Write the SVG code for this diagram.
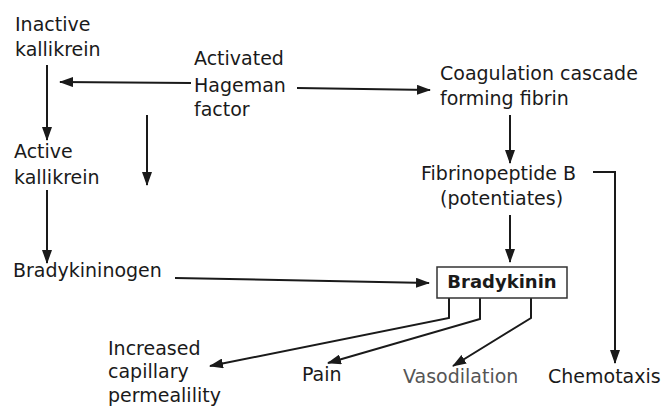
<svg xmlns="http://www.w3.org/2000/svg" width="665" height="409" viewBox="0 0 665 409">
<style>
text{font-family:"DejaVu Sans","Liberation Sans",sans-serif;font-size:19px;fill:#1a1a1a}
.b{font-weight:bold;font-size:18px}
.g{fill:#555}
.c{fill:none;stroke:#1a1a1a;stroke-width:2}
.box{fill:#fff;stroke:#333;stroke-width:1.5}
</style>
<defs>
<marker id="ah" markerUnits="userSpaceOnUse" markerWidth="14" markerHeight="10" refX="13" refY="5" orient="auto">
<path d="M0,0 L14,5 L0,10 Z" fill="#1a1a1a"/>
</marker>
</defs>
<g id="connectors">
<path class="c" d="M47,65 V140" marker-end="url(#ah)"/>
<path class="c" d="M47,190 V263" marker-end="url(#ah)"/>
<path class="c" d="M191,83 L60,82" marker-end="url(#ah)"/>
<path class="c" d="M297,88 L430,90" marker-end="url(#ah)"/>
<path class="c" d="M147,115 V185" marker-end="url(#ah)"/>
<path class="c" d="M510,115 V163" marker-end="url(#ah)"/>
<path class="c" d="M510,215 V262" marker-end="url(#ah)"/>
<path class="c" d="M175,278 L429,283" marker-end="url(#ah)"/>
<path class="c" d="M593,172 H615 V363" marker-end="url(#ah)"/>
<path class="c" d="M449,298 V318 L210,366" marker-end="url(#ah)"/>
<path class="c" d="M480,298 V319 L328,363" marker-end="url(#ah)"/>
<path class="c" d="M531,298 V318 L453,366" marker-end="url(#ah)"/>
</g>
<g id="inactive-kallikrein"><text x="15" y="31">Inactive</text><text x="15" y="56">kallikrein</text></g>
<g id="active-kallikrein"><text x="14" y="158">Active</text><text x="14" y="184">kallikrein</text></g>
<g id="bradykininogen"><text x="13" y="277">Bradykininogen</text></g>
<g id="hageman"><text x="194" y="65">Activated</text><text x="194" y="92">Hageman</text><text x="194" y="116">factor</text></g>
<g id="coagulation"><text x="440" y="80">Coagulation cascade</text><text x="440" y="105">forming fibrin</text></g>
<g id="fibrinopeptide"><text x="421" y="180">Fibrinopeptide B</text><text x="440" y="205">(potentiates)</text></g>
<g id="bradykinin"><rect class="box" x="437" y="267" width="130" height="31"/><text class="b" x="502" y="288" text-anchor="middle">Bradykinin</text></g>
<g id="permeability"><text x="108" y="355">Increased</text><text x="108" y="378">capillary</text><text x="108" y="402">permealility</text></g>
<g id="pain"><text x="302" y="381">Pain</text></g>
<g id="vasodilation"><text class="g" x="403" y="383">Vasodilation</text></g>
<g id="chemotaxis"><text x="548" y="383">Chemotaxis</text></g>
</svg>
